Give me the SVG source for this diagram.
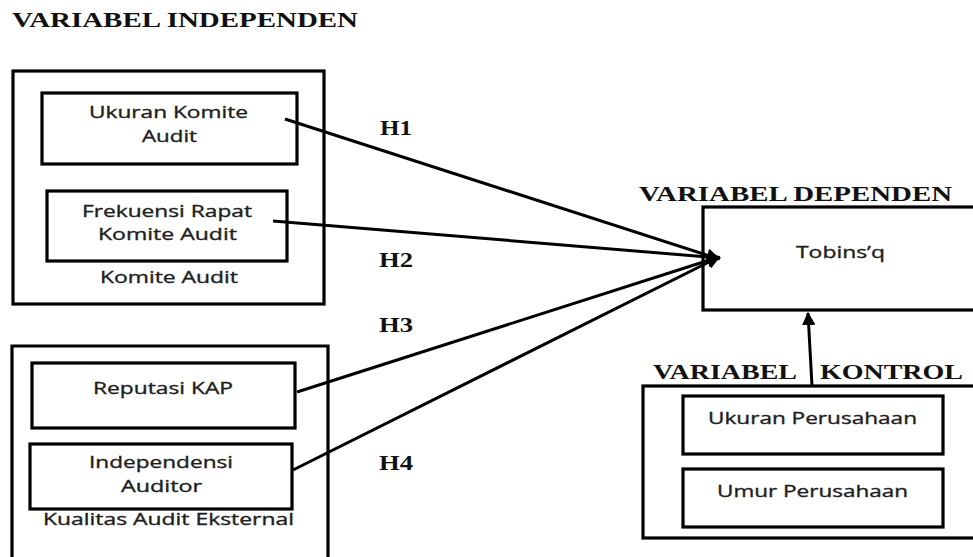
<svg xmlns="http://www.w3.org/2000/svg" width="973" height="557" viewBox="0 0 973 557">
<style>
.box{fill:none;stroke:#000;stroke-width:3.2}
.hd{font-family:"Liberation Serif",serif;font-weight:bold;font-size:20px;fill:#111}
.t{font-family:"Open Sans","Liberation Sans",sans-serif;font-size:16.5px;fill:#1e1e1e;stroke:#1e1e1e;stroke-width:0.35}
.ln{stroke:#000;stroke-width:3;fill:none}
</style>
<defs>
<marker id="ah" viewBox="0 0 10 10" refX="9" refY="5" markerWidth="4.5" markerHeight="4.5" orient="auto" markerUnits="strokeWidth">
<path d="M0,0 L10,5 L0,10 z" fill="#000"/>
</marker>
</defs>
<rect width="973" height="557" fill="#fff"/>
<text class="hd" x="12" y="27" textLength="346" lengthAdjust="spacingAndGlyphs">VARIABEL INDEPENDEN</text>
<g id="komite-audit">
<rect class="box" x="13" y="71" width="311" height="233"/>
<text class="t" x="100" y="283" textLength="138" lengthAdjust="spacingAndGlyphs">Komite Audit</text>
</g>
<g id="ukuran-komite">
<rect class="box" x="42" y="93" width="255" height="71"/>
<text class="t" x="89" y="118" textLength="159" lengthAdjust="spacingAndGlyphs">Ukuran Komite</text>
<text class="t" x="142" y="142" textLength="55" lengthAdjust="spacingAndGlyphs">Audit</text>
</g>
<g id="frekuensi-rapat">
<rect class="box" x="47" y="191" width="240" height="70"/>
<text class="t" x="82" y="217" textLength="170" lengthAdjust="spacingAndGlyphs">Frekuensi Rapat</text>
<text class="t" x="98" y="240" textLength="139" lengthAdjust="spacingAndGlyphs">Komite Audit</text>
</g>
<g id="kualitas-audit">
<path class="box" d="M12,560 L12,346 L328,346 L328,560"/>
<text class="t" x="43" y="525" textLength="251" lengthAdjust="spacingAndGlyphs">Kualitas Audit Eksternal</text>
</g>
<g id="reputasi-kap">
<rect class="box" x="32" y="363" width="263" height="65"/>
<text class="t" x="93" y="394" textLength="140" lengthAdjust="spacingAndGlyphs">Reputasi KAP</text>
</g>
<g id="independensi">
<rect class="box" x="30" y="444" width="262" height="65"/>
<text class="t" x="89" y="468" textLength="144" lengthAdjust="spacingAndGlyphs">Independensi</text>
<text class="t" x="121" y="492" textLength="81" lengthAdjust="spacingAndGlyphs">Auditor</text>
</g>
<g id="tobins-q">
<text class="hd" x="639" y="201" textLength="313" lengthAdjust="spacingAndGlyphs">VARIABEL DEPENDEN</text>
<rect class="box" x="703" y="207" width="280" height="103"/>
<text class="t" x="796" y="258" textLength="89" lengthAdjust="spacingAndGlyphs">Tobins’q</text>
</g>
<g id="kontrol">
<text class="hd" x="653" y="379" textLength="144" lengthAdjust="spacingAndGlyphs">VARIABEL</text>
<text class="hd" x="820" y="379" textLength="143" lengthAdjust="spacingAndGlyphs">KONTROL</text>
<rect class="box" x="643" y="386" width="340" height="152"/>
</g>
<g id="ukuran-perusahaan">
<rect class="box" x="683" y="396" width="260" height="58"/>
<text class="t" x="708" y="424" textLength="209" lengthAdjust="spacingAndGlyphs">Ukuran Perusahaan</text>
</g>
<g id="umur-perusahaan">
<rect class="box" x="683" y="469" width="260" height="58"/>
<text class="t" x="717" y="497" textLength="191" lengthAdjust="spacingAndGlyphs">Umur Perusahaan</text>
</g>
<g id="connectors">
<line class="ln" x1="285" y1="119" x2="719" y2="259" marker-end="url(#ah)"/>
<line class="ln" x1="273" y1="221" x2="720" y2="258" marker-end="url(#ah)"/>
<line class="ln" x1="297" y1="392" x2="719" y2="257" marker-end="url(#ah)"/>
<line class="ln" x1="293" y1="470" x2="719" y2="257" marker-end="url(#ah)"/>
<line class="ln" x1="812" y1="386" x2="808" y2="313" marker-end="url(#ah)"/>
<text class="hd" x="380" y="135" textLength="32" lengthAdjust="spacingAndGlyphs">H1</text>
<text class="hd" x="379" y="267" textLength="34" lengthAdjust="spacingAndGlyphs">H2</text>
<text class="hd" x="379" y="332" textLength="34" lengthAdjust="spacingAndGlyphs">H3</text>
<text class="hd" x="379" y="470" textLength="34" lengthAdjust="spacingAndGlyphs">H4</text>
</g>
</svg>
